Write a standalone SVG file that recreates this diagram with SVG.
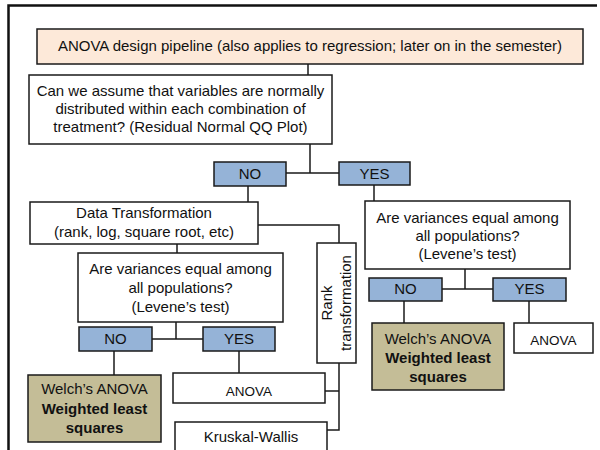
<svg xmlns="http://www.w3.org/2000/svg" width="600" height="450" viewBox="0 0 600 450">
<style>
text{font-family:"Liberation Sans",Arial,sans-serif;font-size:15px;fill:#111;text-anchor:middle}
.b{font-weight:bold}
.box{fill:#fff;stroke:#1a1a1a;stroke-width:1.5}
.title{fill:#fde9d9;stroke:#1a1a1a;stroke-width:1.5}
.yn{fill:#95b3d7;stroke:#1a1a1a;stroke-width:1.5}
.res{fill:#c4bd97;stroke:#1a1a1a;stroke-width:1.5}
.c{fill:none;stroke:#1a1a1a;stroke-width:1.5}
.sm{font-size:13.5px}
</style>
<rect width="600" height="450" fill="#fff"/>
<path d="M8.5,450 V5.5 H597" fill="none" stroke="#111" stroke-width="2.5"/>
<g id="connectors">
<path class="c" d="M308,64 V75"/>
<path class="c" d="M310,144 V173 M286,173 H339"/>
<path class="c" d="M248,186 V202"/>
<path class="c" d="M374,185 V201"/>
<path class="c" d="M465,269 V289 M442,289 H493"/>
<path class="c" d="M404,301 V323"/>
<path class="c" d="M529,301 V323"/>
<path class="c" d="M258,225 H339 V243"/>
<path class="c" d="M339,363 V430 H327 M339,391 H325"/>
<path class="c" d="M177,244 V253"/>
<path class="c" d="M176,322 V339 M152,339 H203"/>
<path class="c" d="M114,351 V375"/>
<path class="c" d="M239,351 V373"/>
</g>
<g id="title"><rect class="title" x="37" y="29" width="546" height="35"/><text x="310" y="51">ANOVA design pipeline (also applies to regression; later on in the semester)</text></g>
<g id="q1"><rect class="box" x="29" y="75" width="303" height="69"/><text x="180.5" y="96">Can we assume that variables are normally</text><text x="180.5" y="114">distributed within each combination of</text><text x="180.5" y="132">treatment? (Residual Normal QQ Plot)</text></g>
<g id="no1"><rect class="yn" x="214" y="162" width="72" height="24"/><text x="250" y="179">NO</text></g>
<g id="yes1"><rect class="yn" x="339" y="162" width="71" height="23"/><text x="374.5" y="179">YES</text></g>
<g id="transform"><rect class="box" x="30" y="202" width="228" height="42"/><text x="144" y="218">Data Transformation</text><text x="144" y="237">(rank, log, square root, etc)</text></g>
<g id="q2"><rect class="box" x="78" y="253" width="205" height="69"/><text x="180.5" y="274">Are variances equal among</text><text x="180.5" y="293">all populations?</text><text x="180.5" y="312">(Levene’s test)</text></g>
<g id="q3"><rect class="box" x="365" y="201" width="205" height="68"/><text x="467.5" y="223">Are variances equal among</text><text x="467.5" y="241">all populations?</text><text x="467.5" y="259">(Levene’s test)</text></g>
<g id="rank"><rect class="box" x="317" y="243" width="39" height="120"/><text transform="rotate(-90)" x="-303" y="332" text-anchor="middle">Rank</text><text transform="rotate(-90)" x="-303" y="351" text-anchor="middle">transformation</text></g>
<g id="no2"><rect class="yn" x="79" y="327" width="73" height="24"/><text x="115.5" y="344">NO</text></g>
<g id="yes2"><rect class="yn" x="203" y="327" width="72" height="24"/><text x="239" y="344">YES</text></g>
<g id="no3"><rect class="yn" x="369" y="278" width="73" height="23"/><text x="405.5" y="294">NO</text></g>
<g id="yes3"><rect class="yn" x="493" y="278" width="73" height="23"/><text x="529.5" y="294">YES</text></g>
<g id="welch1"><rect class="res" x="28" y="375" width="133" height="67"/><text x="94.5" y="394">Welch’s ANOVA</text><text class="b" x="94.5" y="414">Weighted least</text><text class="b" x="94.5" y="433">squares</text></g>
<g id="welch2"><rect class="res" x="372" y="323" width="132" height="67"/><text x="438" y="344">Welch’s ANOVA</text><text class="b" x="438" y="363">Weighted least</text><text class="b" x="438" y="382">squares</text></g>
<g id="anova1"><rect class="box" x="173" y="373" width="152" height="30"/><text class="sm" x="249" y="396">ANOVA</text></g>
<g id="anova2"><rect class="box" x="514" y="323" width="79" height="30"/><text class="sm" x="553.5" y="345">ANOVA</text></g>
<g id="kw"><rect class="box" x="175" y="422" width="152" height="40"/><text x="251" y="442">Kruskal-Wallis</text></g>
</svg>
